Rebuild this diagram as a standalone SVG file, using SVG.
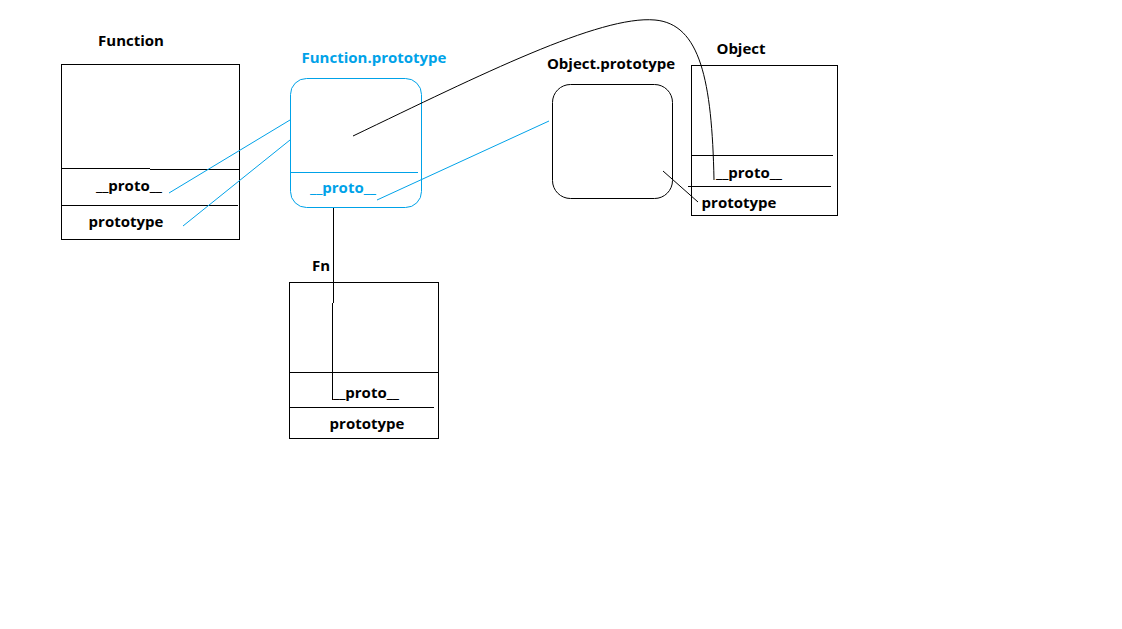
<svg xmlns="http://www.w3.org/2000/svg" width="1122" height="629" viewBox="0 0 1122 629">
<style>
text{font-family:"Open Sans","DejaVu Sans",sans-serif;font-weight:bold;font-size:15px;text-anchor:middle;fill:#000}
.b{fill:#00A2E8}
.box{fill:none;stroke:#000;stroke-width:1}
.bbox{fill:none;stroke:#00A2E8;stroke-width:1}
.ln{stroke:#000;stroke-width:1;fill:none}
.bl{stroke:#00A2E8;stroke-width:1;fill:none}
</style>
<rect width="1122" height="629" fill="#fff"/>
<g id="function">
<text x="131" y="46">Function</text>
<rect class="box" x="61.5" y="64.5" width="178" height="175"/>
<path class="ln" d="M61 168.5H150M150 169.5H239M61 205.5H238"/>
<text x="129" y="191">__proto__</text>
<text x="126" y="227">prototype</text>
</g>
<g id="function-prototype">
<text class="b" x="374" y="63">Function.prototype</text>
<rect class="bbox" x="290.5" y="78.5" width="131" height="129" rx="16"/>
<path class="bl" d="M290 172.5H418"/>
<text class="b" x="343" y="193">__proto__</text>
</g>
<g id="object-prototype">
<text x="611" y="69">Object.prototype</text>
<rect class="box" x="552.5" y="84.5" width="120" height="114" rx="18"/>
</g>
<g id="object">
<text x="741" y="54">Object</text>
<rect class="box" x="691.5" y="65.5" width="146" height="150"/>
<path class="ln" d="M691 155.5H833M688 186.5H831"/>
<text x="749" y="178">__proto__</text>
<text x="739" y="208">prototype</text>
</g>
<g id="fn">
<text x="321" y="271">Fn</text>
<rect class="box" x="289.5" y="282.5" width="149" height="156"/>
<path class="ln" d="M290 372.5H438M290 407.5H434"/>
<text x="366" y="398">__proto__</text>
<text x="367" y="429">prototype</text>
</g>
<g id="connectors">
<path class="bl" d="M169 193L290 120"/>
<path class="bl" d="M183 226L290 140"/>
<path class="bl" d="M377 200L549 121"/>
<path class="ln" d="M353 136C480 75 600 15 655 20C700 24 712 80 714 180"/>
<path class="ln" d="M663 171L698 202"/>
<path class="ln" d="M333.5 208V303M332.5 303V400"/>
</g>
</svg>
